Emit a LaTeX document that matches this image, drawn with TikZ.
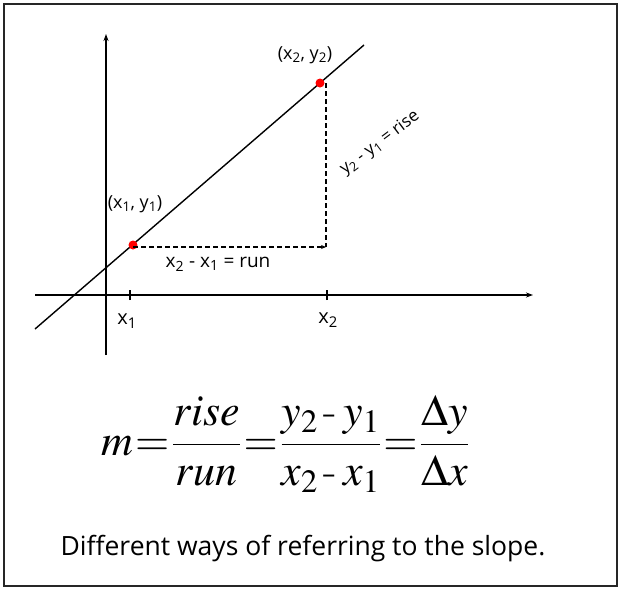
\documentclass[tikz,border=0pt]{standalone}
\usepackage{mathptmx}
\usepackage{fontspec}
\newfontfamily\handfont{Open Sans}
\usepackage{tikz}
\usetikzlibrary{arrows.meta}
\newcommand{\hy}{\mathbin{\hbox{-}}}

\begin{document}
\begin{tikzpicture}[x=1pt, y=-1pt,
  axis/.style={-{Stealth[length=7pt,width=5pt]}, line width=1.4pt},
  slopeline/.style={line width=1.4pt},
  guide/.style={line width=1.3pt, dash pattern=on 5pt off 3pt},
  axtick/.style={line width=1.4pt},
  dot/.style={circle, fill=red, inner sep=0pt, minimum size=9pt},
  hand/.style={font=\handfont\fontsize{17}{19}\selectfont, inner sep=1pt},
  caption/.style={font=\handfont\fontsize{26.5}{30}\selectfont}
]
\useasboundingbox (0,0) rectangle (621,592);

% Frame
\draw[line width=1.6pt, draw=black!85] (4,4) rectangle (617,586);

% Axes
\coordinate (ytop) at (106,34);
\coordinate (ybot) at (106,355);
\coordinate (xleft) at (35,295);
\coordinate (xright) at (533,295);
\draw[axis] (ybot) -- (ytop);
\draw[axis] (xleft) -- (xright);

% Line and points
\coordinate (lstart) at (35,329);
\coordinate (lend) at (364,45);
\draw[slopeline] (lstart) -- (lend);
\coordinate (corner) at (326,247);
\node[dot] (p1) at (133,245) {};
\node[dot] (p2) at (320,83) {};

% Rise and run
\draw[guide, -{Stealth[length=5pt,width=4pt]}] (p1.center |- corner) -- (corner);
\draw[guide] (p2.center -| corner) -- (corner);

% Ticks
\coordinate (t1) at (130,295);
\coordinate (t2) at (327,295);
\draw[axtick] ([yshift=-5pt]t1) -- ([yshift=5pt]t1);
\draw[axtick] ([yshift=-5pt]t2) -- ([yshift=5pt]t2);

% Labels
\node[hand, font=\handfont\fontsize{20}{22}\selectfont] (lx1) at (127,321) {x\textsubscript{1}};
\node[hand, font=\handfont\fontsize{20}{22}\selectfont] (lx2) at (328,320) {x\textsubscript{2}};
\node[hand, font=\handfont\fontsize{18}{20}\selectfont] (lp1) at (135,204) {(x\textsubscript{1}, y\textsubscript{1})};
\node[hand, font=\handfont\fontsize{18}{20}\selectfont] (lp2) at (305,55) {(x\textsubscript{2}, y\textsubscript{2})};
\node[hand, font=\handfont\fontsize{19}{21}\selectfont] (lrun) at (218,264) {x\textsubscript{2} - x\textsubscript{1} = run};
\node[hand, rotate=37] (lrise) at (380,143) {y\textsubscript{2} - y\textsubscript{1} = rise};

% Formula
\node[font=\fontsize{44}{50}\selectfont] (slope) at (285,444)
  {\thickmuskip=1mu \medmuskip=2.5mu
   $\displaystyle m=\frac{rise}{run}=\frac{y_2 \hy y_1}{x_2 \hy x_1}=\frac{\Delta y}{\Delta x}$};

\node[caption] (cap) at (303,549) {Different ways of referring to the slope.};

\end{tikzpicture}
\end{document}
